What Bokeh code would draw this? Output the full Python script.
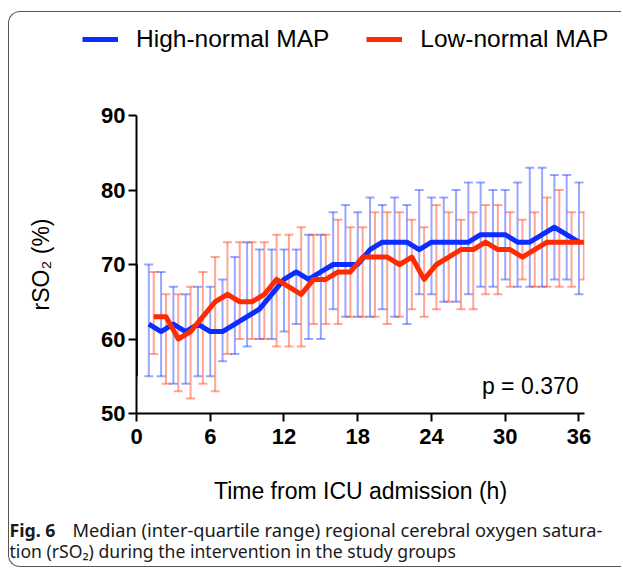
from bokeh.plotting import figure
from bokeh.layouts import column
from bokeh.models import (ColumnDataSource, Whisker, TeeHead, Legend, LegendItem,
                          Label, FixedTicker, Range1d)
from bokeh.transform import dodge
from bokeh.embed import file_html
from bokeh.resources import INLINE

# ---------------- data ----------------
hours = list(range(1, 37))
high_median = [62, 61, 62, 61, 62, 61, 61, 62, 63, 64, 66, 68,
               69, 68, 69, 70, 70, 70, 72, 73, 73, 73, 72, 73,
               73, 73, 73, 74, 74, 74, 73, 73, 74, 75, 74, 73]
high_q1 = [55, 55, 54, 54, 55, 55, 57, 58, 59, 60, 60, 61,
           62, 60, 60, 64, 63, 63, 63, 64, 63, 62, 66, 66,
           65, 65, 66, 67, 67, 68, 67, 67, 67, 68, 68, 66]
high_q3 = [70, 69, 67, 66, 67, 67, 68, 71, 73, 72, 72, 72,
           72, 74, 74, 77, 78, 77, 79, 78, 79, 78, 80, 79,
           79, 80, 81, 81, 80, 80, 81, 83, 83, 82, 82, 81]
low_median = [63, 63, 60, 61, 63, 65, 66, 65, 65, 66, 68, 67,
              66, 68, 68, 69, 69, 71, 71, 71, 70, 71, 68, 70,
              71, 72, 72, 73, 72, 72, 71, 72, 73, 73, 73, 73]
low_q1 = [58, 54, 53, 52, 54, 53, 58, 60, 60, 60, 59, 59,
          59, 62, 62, 62, 63, 63, 63, 62, 63, 64, 63, 64,
          65, 64, 64, 66, 66, 67, 68, 67, 67, 67, 67, 68]
low_q3 = [69, 66, 66, 67, 69, 71, 73, 73, 73, 73, 74, 74,
          75, 74, 74, 76, 75, 75, 77, 77, 77, 76, 75, 78,
          77, 76, 77, 78, 78, 77, 76, 77, 79, 80, 77, 77]
x_ticks = [0, 6, 12, 18, 24, 30, 36]
y_ticks = [50, 60, 70, 80, 90]
series_names = ["High-normal MAP", "Low-normal MAP"]
p_value_text = "p = 0.370"
x_title = "Time from ICU admission (h)"
y_title = "rSO\u2082 (%)"
caption_bold = "Fig. 6"
caption_line1 = "Median (inter-quartile range) regional cerebral oxygen satura-"
caption_line2 = "tion (rSO\u2082) during the intervention in the study groups"

# ---------------- styling ----------------
BLUE = "#0b2dff"
RED = "#ff2b00"
LOW_DODGE = 0.4
W = 612
H_LEG, H_MAIN, H_CAP = 68, 432, 54
FONT = "Liberation Sans"
CAP_FONT = "Noto Sans"
CAP_COLOR = "#1a1a1a"

high_src = ColumnDataSource(dict(hour=hours, med=high_median, lo=high_q1, hi=high_q3))
low_src = ColumnDataSource(dict(hour=hours, med=low_median, lo=low_q1, hi=low_q3))


def bare_figure(height):
    f = figure(width=W, height=height, output_backend="svg", toolbar_location=None,
               x_range=Range1d(0, 1), y_range=Range1d(0, 1),
               x_axis_location=None, y_axis_location=None, min_border=0,
               frame_align=False)
    f.outline_line_color = None
    f.grid.visible = False
    f.background_fill_alpha = 0
    f.border_fill_alpha = 0
    return f


# ---------------- main chart ----------------
p = figure(width=W, height=H_MAIN, output_backend="svg", toolbar_location=None,
           x_range=Range1d(0, 36.45), y_range=Range1d(50, 90),
           min_border_left=127, min_border_top=35,
           min_border_right=37, min_border_bottom=99, frame_align=False)
p.outline_line_color = None
p.grid.visible = False
p.background_fill_color = "white"
p.border_fill_color = "white"

p.xaxis.ticker = FixedTicker(ticks=x_ticks)
p.yaxis.ticker = FixedTicker(ticks=y_ticks)
for ax in (p.xaxis[0], p.yaxis[0]):
    ax.axis_line_width = 2
    ax.axis_line_color = "black"
    ax.major_tick_line_width = 2
    ax.major_tick_line_color = "black"
    ax.major_tick_out = 8
    ax.major_tick_in = 0
    ax.minor_tick_line_color = None
    ax.major_label_text_font = FONT
    ax.major_label_text_font_style = "bold"
    ax.major_label_text_font_size = "22px"
    ax.major_label_text_color = "black"
    ax.axis_label_text_font = FONT
    ax.axis_label_text_font_style = "normal"
    ax.axis_label_text_font_size = "23px"
    ax.axis_label_text_color = "black"
p.xaxis.axis_label = x_title
p.yaxis.axis_label = y_title
p.xaxis.major_label_standoff = 7
p.yaxis.major_label_standoff = 3
p.xaxis.axis_label_standoff = 31
p.yaxis.axis_label_standoff = 44

# artefact: dark segment on the y axis matching first blue IQR bar
p.segment(x0=0, y0=high_q1[0], x1=0, y1=high_q3[0], line_color="#222222", line_width=3)

# inter-quartile range bars
for src, col, off in ((high_src, BLUE, 0.0), (low_src, RED, LOW_DODGE)):
    base = dodge("hour", off, range=p.x_range)
    wh = Whisker(base=base, lower="lo", upper="hi", source=src, dimension="height",
                 line_color=col, line_alpha=0.42, line_width=2,
                 upper_head=TeeHead(size=9, line_color=col, line_alpha=0.42, line_width=2),
                 lower_head=TeeHead(size=9, line_color=col, line_alpha=0.42, line_width=2))
    p.add_layout(wh)

p.line(x="hour", y="med", source=high_src, line_color=BLUE, line_width=5, line_join="round")
p.line(x=dodge("hour", LOW_DODGE, range=p.x_range), y="med", source=low_src,
       line_color=RED, line_width=5, line_join="round")

p.add_layout(Label(x=442, y=28, x_units="screen", y_units="screen",
                   text=p_value_text, text_align="right", text_baseline="middle",
                   text_font=FONT, text_font_size="23px", text_color="black"))

# ---------------- legend strip ----------------
# key renderers reuse the series sources; their data lie outside this strip's
# 0..1 ranges, so only the legend keys are visible here
leg = bare_figure(H_LEG)
leg_blue = leg.line(x="hour", y="med", source=high_src, line_color=BLUE, line_width=5)
leg_red = leg.line(x="hour", y="med", source=low_src, line_color=RED, line_width=5)
legend = Legend(items=[LegendItem(label=series_names[0], renderers=[leg_blue]),
                       LegendItem(label=series_names[1], renderers=[leg_red])],
                orientation="horizontal", location=(73, 27),
                glyph_width=36, glyph_height=24, label_standoff=18, spacing=37,
                padding=0, margin=0, border_line_color=None, background_fill_alpha=0,
                label_text_font=FONT, label_text_font_size="24.5px",
                label_text_color="black", label_height=24)
leg.add_layout(legend)

# ---------------- caption ----------------
cap = bare_figure(H_CAP)
cap.add_layout(Label(x=0, y=37, x_units="screen", y_units="screen",
                     text=caption_bold, text_font=CAP_FONT, text_font_style="bold",
                     text_font_size="17.75px", text_baseline="alphabetic", text_color=CAP_COLOR))
cap.add_layout(Label(x=63, y=37, x_units="screen", y_units="screen",
                     text=caption_line1, text_font=CAP_FONT,
                     text_font_size="18.25px", text_baseline="alphabetic", text_color=CAP_COLOR))
cap.add_layout(Label(x=0, y=16, x_units="screen", y_units="screen",
                     text=caption_line2, text_font=CAP_FONT,
                     text_font_size="17.6px", text_baseline="alphabetic", text_color=CAP_COLOR))

layout = column(leg, p, cap, spacing=0,
                styles={"margin": "11px 0 0 8px", "box-sizing": "content-box",
                        "border-left": "1.5px solid #555", "border-top": "1.5px solid #555",
                        "border-bottom": "1.5px solid #555",
                        "border-radius": "12px 0 0 12px"})

open("out.html", "w").write(file_html(layout, INLINE))
